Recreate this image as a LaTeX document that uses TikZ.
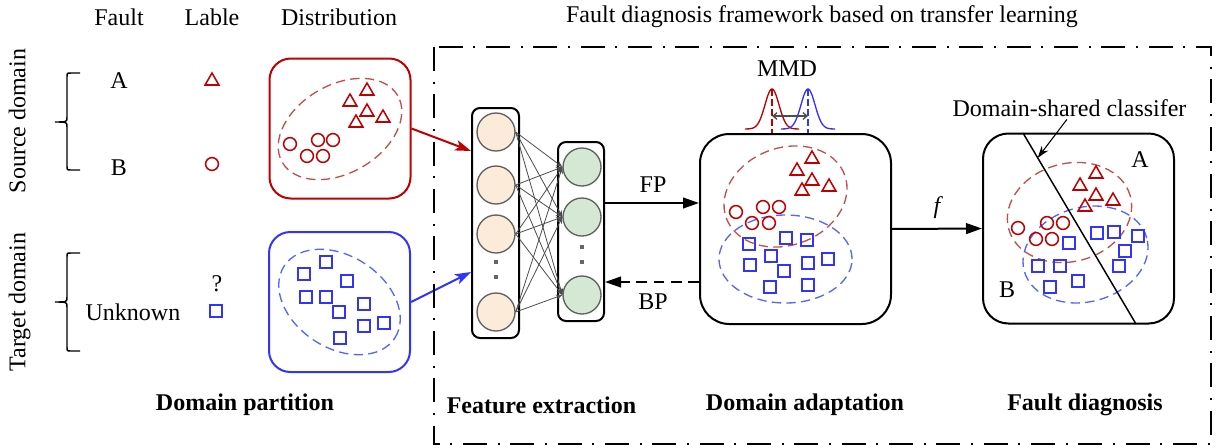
\documentclass[tikz,border=0pt]{standalone}
\usepackage{fontspec}
\setmainfont{Liberation Serif}
\usetikzlibrary{arrows.meta,shapes.geometric,calc}

\definecolor{srcred}{HTML}{C00000}
\definecolor{tgtblue}{HTML}{3333FF}
\definecolor{srcdash}{HTML}{C0504D}
\definecolor{tgtdash}{HTML}{5566FF}
\definecolor{peach}{HTML}{FDEBD9}
\definecolor{mint}{HTML}{D5E8D4}
\definecolor{rim}{HTML}{606060}

\begin{document}
\begin{tikzpicture}[x=0.75pt,y=-0.75pt,
  every node/.style={font=\fontsize{18}{21.6}\selectfont},
  txt/.style={inner sep=0pt},
  head/.style={txt,font=\fontsize{18}{21.6}\selectfont\bfseries},
  tri/.style={regular polygon,regular polygon sides=3,draw=srcred,line width=1.15pt,minimum size=12pt,inner sep=0pt},
  circ/.style={circle,draw=srcred,line width=1.15pt,minimum size=9.6pt,inner sep=0pt},
  sq/.style={rectangle,draw=tgtblue,line width=1.15pt,minimum size=8.8pt,inner sep=0pt},
  databox/.style={rectangle,line width=1.5pt,rounded corners=16pt,minimum width=105.75pt,minimum height=105pt},
  stagebox/.style={rectangle,draw=black,line width=1.5pt,minimum width=143.25pt,minimum height=142.5pt},
  layerbox/.style={rectangle,draw=black,line width=1.5pt,rounded corners=6pt},
  neuron/.style={circle,draw=rim,line width=1pt,minimum size=28.5pt,inner sep=0pt},
  conn/.style={draw=black!70,line width=0.6pt,-{Stealth[length=5pt,width=4pt]}},
  mainarrow/.style={line width=1.5pt,-{Triangle[length=12pt,width=8pt]}},
  inarrow/.style={line width=1.5pt,-{Stealth[length=12pt,width=8pt,inset=3pt]}},
  brace/.style={line width=1.1pt},
  frame/.style={line width=1pt,dash pattern=on 18pt off 8pt on 1.5pt off 8pt},
  ellr/.style={draw=srcdash,line width=1pt,dash pattern=on 7pt off 4pt},
  ellb/.style={draw=tgtdash,line width=1pt,dash pattern=on 7pt off 4pt},
  vdot/.style={rectangle,fill=black!60,minimum size=2.5pt,inner sep=0pt}
]
\useasboundingbox (0,0) rectangle (1216,447);

% ---------- column headings ----------
\node[txt] (hFault) at (119,17) {Fault};
\node[txt] (hLable) at (212,17) {Lable};
\node[txt] (hDist) at (339,17) {Distribution};
\node[txt] (hFrame) at (822,17) {Fault diagnosis framework based on transfer learning};

% ---------- domain side labels and braces ----------
\node[txt,rotate=90,text height=12pt,text depth=4pt] (srcDom) at (20,121) {Source domain};
\node[txt,rotate=90,text height=12pt,text depth=4pt] (tgtDom) at (20,302) {Target domain};
\draw[brace] (80,73) -- (71,73) .. controls (67,73) .. (67,77) -- (67,117)
  .. controls (67,122) .. (55,122) .. controls (67,122) .. (67,127) -- (67,166)
  .. controls (67,170) .. (71,170) -- (80,170);
\draw[brace] (80,253) -- (71,253) .. controls (67,253) .. (67,257) -- (67,297)
  .. controls (67,302) .. (55,302) .. controls (67,302) .. (67,307) -- (67,347)
  .. controls (67,351) .. (71,351) -- (80,351);

\node[txt] (faultA) at (119,81) {A};
\node[txt] (faultB) at (119,168) {B};
\node[txt] (faultU) at (133,312) {Unknown};
\node[tri] (lblA) at (212,81) {};
\node[circ] (lblB) at (212,164) {};
\node[txt] (lblQ) at (217,284) {?};
\node[sq] (lblU) at (216,311) {};

% ---------- source / target distributions ----------
\node[databox,draw=srcred] (srcbox) at (340,128.5) {};
\node[databox,draw=tgtblue] (tgtbox) at (339.5,302) {};
\draw[ellr,rotate around={30:(340,129)}] (340,129) ellipse [x radius=50pt,y radius=33pt];
\draw[ellb,rotate around={-33:(339.5,302)}] (339.5,302) ellipse [x radius=49.5pt,y radius=34.5pt];
\foreach \p [count=\i] in {(367,91),(350,102),(367,112),(383,118),(356,123)}
  \node[tri] (sT\i) at \p {};
\foreach \p [count=\i] in {(290,144),(318,140),(333,140),(307,156),(323,156)}
  \node[circ] (sC\i) at \p {};
\foreach \p [count=\i] in {(304,274),(326,262),(347,281),(306,297),(326,297),(364,304),(339,312),(384,323),(364,326),(340,338)}
  \node[sq] (tS\i) at \p {};

% ---------- feature extractor ----------
\node[layerbox,minimum width=35.25pt,minimum height=172.5pt] (l1box) at (495.5,223) {};
\node[layerbox,minimum width=34.5pt,minimum height=134.25pt] (l2box) at (581,231.5) {};
\foreach \y [count=\i] in {132,185,234,312}
  \node[neuron,fill=peach] (a\i) at (496,\y) {};
\foreach \y [count=\i] in {167,217,295}
  \node[neuron,fill=mint] (b\i) at (582,\y) {};
\node[vdot] (aDot1) at (496,262) {};
\node[vdot] (aDot2) at (496,277) {};
\node[vdot] (bDot1) at (582,247) {};
\node[vdot] (bDot2) at (582,262) {};
\foreach \i in {1,...,4}
  \foreach \j in {1,2,3}
    \draw[conn] (a\i.east) -- (b\j.west);

\coordinate (redIn) at (471,151);
\coordinate (blueIn) at (471,272);
\draw[inarrow,srcred] (srcbox.east) -- (redIn);
\draw[inarrow,tgtblue] (tgtbox.east) -- (blueIn);

% ---------- domain adaptation ----------
\node[stagebox,rounded corners=22pt] (dabox) at (795.5,229) {};
\draw[ellr,rotate around={20:(785.5,196.5)}] (785.5,196.5) ellipse [x radius=47.25pt,y radius=36.5pt];
\draw[ellb] (785.5,259) ellipse [x radius=49.9pt,y radius=33pt];
\foreach \p [count=\i] in {(812,159),(797,171),(812,181),(829,187),(802,191)}
  \node[tri] (dT\i) at \p {};
\foreach \p [count=\i] in {(736,212),(763,207),(779,207),(752,223),(769,223)}
  \node[circ] (dC\i) at \p {};
\foreach \p [count=\i] in {(749,244),(786,238),(807,240),(771,256),(750,265),(784,271),(808,263),(828,259),(770,287),(808,285)}
  \node[sq] (dS\i) at \p {};

\coordinate (fpY) at (0,203);
\coordinate (bpY) at (0,282);
\draw[mainarrow] (l2box.east |- fpY) -- (dabox.west |- fpY);
\draw[mainarrow,dash pattern=on 8pt off 5pt] (dabox.west |- bpY) -- (l2box.east |- bpY);
\node[txt] (fpLbl) at (653,185) {FP};
\node[txt] (bpLbl) at (653,302) {BP};

% MMD between the two distributions
\node[txt] (mmd) at (787,69) {MMD};
\draw[srcred,line width=1pt] plot[domain=-27:27,samples=60] ({772+\x},{129-40*exp(-((\x)*(\x))/98)});
\draw[tgtblue,line width=1pt] plot[domain=-27:27,samples=60] ({808+\x},{129-40*exp(-((\x)*(\x))/98)});
\coordinate (peakR) at (772,89);
\coordinate (peakB) at (808,89);
\draw[srcred,line width=1pt,dash pattern=on 5pt off 2.5pt] (peakR) -- (dabox.north -| peakR);
\draw[tgtblue,line width=1pt,dash pattern=on 5pt off 2.5pt] (peakB) -- (dabox.north -| peakB);
\coordinate (gapL) at (772,116);
\coordinate (gapR) at (808,116);
\draw[black!70,line width=1pt,{Straight Barb[length=3pt,width=5pt]}-{Straight Barb[length=3pt,width=5pt]}] (gapL) -- (gapR);

% ---------- fault diagnosis ----------
\node[stagebox,rounded corners=19pt] (fdbox) at (1078.5,228.5) {};
\draw[mainarrow] (dabox.east) -- (fdbox.west);
\node[txt,font=\fontsize{18}{21.6}\selectfont\itshape] (fLbl) at (937,208) {f};

\draw[ellr,rotate around={15:(1069.5,212.5)}] (1069.5,212.5) ellipse [x radius=47.25pt,y radius=36.75pt];
\draw[ellb,rotate around={15:(1085.5,254.5)}] (1085.5,254.5) ellipse [x radius=47.6pt,y radius=35.4pt];
\foreach \p [count=\i] in {(1096,174),(1080,186),(1096,196),(1113,201),(1085,207)}
  \node[tri] (fT\i) at \p {};
\foreach \p [count=\i] in {(1018,228),(1047,223),(1063,223),(1036,239),(1052,239)}
  \node[circ] (fC\i) at \p {};
\foreach \p [count=\i] in {(1069,243),(1097,233),(1114,232),(1138,236),(1125,251),(1038,266),(1060,266),(1119,266),(1050,287),(1078,281)}
  \node[sq] (fS\i) at \p {};

\coordinate (clsTop) at (1023,133);
\coordinate (clsBot) at (1136,324);
\draw[line width=1.1pt] (clsTop) -- (clsBot);
\coordinate (clsHit) at ($(clsTop)!0.13!(clsBot)$);
\node[txt] (clsLbl) at (1069.5,108) {Domain-shared classifer};
\draw[line width=0.8pt,-{Stealth[length=9pt,width=6pt]}] ([xshift=-2pt,yshift=-2pt]clsLbl.south) -- (clsHit);
\node[txt] (clsA) at (1140,160) {A};
\node[txt] (clsB) at (1007,290) {B};

% ---------- framework frame and stage titles ----------
\draw[frame] (434,47) rectangle (1211,444);
\node[head] (tPart) at (245,405) {Domain partition};
\node[head] (tFeat) at (541.5,405) {Feature extraction};
\node[head] (tAdapt) at (805,405) {Domain adaptation};
\node[head] (tDiag) at (1085,405) {Fault diagnosis};
\end{tikzpicture}
\end{document}
